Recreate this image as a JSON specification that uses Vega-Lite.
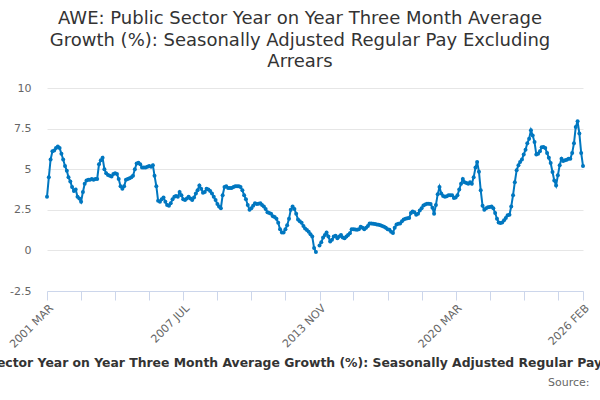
{
  "$schema": "https://vega.github.io/schema/vega-lite/v6.json",
  "autosize": {"type": "none"},
  "padding": {"left": 47, "top": 88, "right": 17, "bottom": 109},
  "width": 536,
  "height": 203,
  "background": "white",
  "title": {
    "text": ["AWE: Public Sector Year on Year Three Month Average", "Growth (%): Seasonally Adjusted Regular Pay Excluding", "Arrears"],
    "font": "DejaVu Sans",
    "fontSize": 18,
    "fontWeight": "normal",
    "color": "#333333",
    "lineHeight": 21.5,
    "anchor": "middle",
    "dx": -15,
    "offset": 11
  },
  "data": {
    "values": [
      {"d": "2001-03-01", "v": 3.3}, {"d": "2001-04-01", "v": 4.5}, {"d": "2001-05-01", "v": 5.6}, {"d": "2001-06-01", "v": 6.1}, {"d": "2001-07-01", "v": 6.15}, {"d": "2001-08-01", "v": 6.3}, {"d": "2001-09-01", "v": 6.4}, {"d": "2001-10-01", "v": 6.3}, {"d": "2001-11-01", "v": 5.95}, {"d": "2001-12-01", "v": 5.6},
      {"d": "2002-01-01", "v": 5.2}, {"d": "2002-02-01", "v": 4.9}, {"d": "2002-03-01", "v": 4.5}, {"d": "2002-04-01", "v": 4.25}, {"d": "2002-05-01", "v": 3.9}, {"d": "2002-06-01", "v": 3.65}, {"d": "2002-07-01", "v": 3.75}, {"d": "2002-08-01", "v": 3.3}, {"d": "2002-09-01", "v": 3.2}, {"d": "2002-10-01", "v": 3.0}, {"d": "2002-11-01", "v": 3.6}, {"d": "2002-12-01", "v": 4.1},
      {"d": "2003-01-01", "v": 4.3}, {"d": "2003-02-01", "v": 4.35}, {"d": "2003-03-01", "v": 4.35}, {"d": "2003-04-01", "v": 4.4}, {"d": "2003-05-01", "v": 4.35}, {"d": "2003-06-01", "v": 4.4}, {"d": "2003-07-01", "v": 4.4}, {"d": "2003-08-01", "v": 5.3}, {"d": "2003-09-01", "v": 5.55}, {"d": "2003-10-01", "v": 5.7}, {"d": "2003-11-01", "v": 5.0}, {"d": "2003-12-01", "v": 4.75},
      {"d": "2004-01-01", "v": 4.65}, {"d": "2004-02-01", "v": 4.6}, {"d": "2004-03-01", "v": 4.55}, {"d": "2004-04-01", "v": 4.7}, {"d": "2004-05-01", "v": 4.75}, {"d": "2004-06-01", "v": 4.7}, {"d": "2004-07-01", "v": 4.4}, {"d": "2004-08-01", "v": 3.95}, {"d": "2004-09-01", "v": 3.8}, {"d": "2004-10-01", "v": 3.95}, {"d": "2004-11-01", "v": 4.35}, {"d": "2004-12-01", "v": 4.4},
      {"d": "2005-01-01", "v": 4.45}, {"d": "2005-02-01", "v": 4.5}, {"d": "2005-03-01", "v": 4.6}, {"d": "2005-04-01", "v": 5.0}, {"d": "2005-05-01", "v": 5.35}, {"d": "2005-06-01", "v": 5.4}, {"d": "2005-07-01", "v": 5.3}, {"d": "2005-08-01", "v": 5.1}, {"d": "2005-09-01", "v": 5.1}, {"d": "2005-10-01", "v": 5.1}, {"d": "2005-11-01", "v": 5.15}, {"d": "2005-12-01", "v": 5.2},
      {"d": "2006-01-01", "v": 5.15}, {"d": "2006-02-01", "v": 5.25}, {"d": "2006-03-01", "v": 4.6}, {"d": "2006-04-01", "v": 3.95}, {"d": "2006-05-01", "v": 3.05}, {"d": "2006-06-01", "v": 3.0}, {"d": "2006-07-01", "v": 3.15}, {"d": "2006-08-01", "v": 3.25}, {"d": "2006-09-01", "v": 3.0}, {"d": "2006-10-01", "v": 2.8}, {"d": "2006-11-01", "v": 2.75}, {"d": "2006-12-01", "v": 2.9},
      {"d": "2007-01-01", "v": 3.15}, {"d": "2007-02-01", "v": 3.3}, {"d": "2007-03-01", "v": 3.35}, {"d": "2007-04-01", "v": 3.3}, {"d": "2007-05-01", "v": 3.6}, {"d": "2007-06-01", "v": 3.4}, {"d": "2007-07-01", "v": 3.15}, {"d": "2007-08-01", "v": 3.1}, {"d": "2007-09-01", "v": 3.2}, {"d": "2007-10-01", "v": 3.3}, {"d": "2007-11-01", "v": 3.2}, {"d": "2007-12-01", "v": 3.1},
      {"d": "2008-01-01", "v": 3.25}, {"d": "2008-02-01", "v": 3.5}, {"d": "2008-03-01", "v": 3.7}, {"d": "2008-04-01", "v": 4.0}, {"d": "2008-05-01", "v": 3.8}, {"d": "2008-06-01", "v": 3.55}, {"d": "2008-07-01", "v": 3.6}, {"d": "2008-08-01", "v": 3.8}, {"d": "2008-09-01", "v": 3.75}, {"d": "2008-10-01", "v": 3.65}, {"d": "2008-11-01", "v": 3.5}, {"d": "2008-12-01", "v": 3.3},
      {"d": "2009-01-01", "v": 3.1}, {"d": "2009-02-01", "v": 2.85}, {"d": "2009-03-01", "v": 2.7}, {"d": "2009-04-01", "v": 2.6}, {"d": "2009-05-01", "v": 3.4}, {"d": "2009-06-01", "v": 3.9}, {"d": "2009-07-01", "v": 3.95}, {"d": "2009-08-01", "v": 3.85}, {"d": "2009-09-01", "v": 3.85}, {"d": "2009-10-01", "v": 3.85}, {"d": "2009-11-01", "v": 3.9}, {"d": "2009-12-01", "v": 3.95},
      {"d": "2010-01-01", "v": 3.95}, {"d": "2010-02-01", "v": 3.95}, {"d": "2010-03-01", "v": 3.9}, {"d": "2010-04-01", "v": 3.7}, {"d": "2010-05-01", "v": 3.4}, {"d": "2010-06-01", "v": 3.15}, {"d": "2010-07-01", "v": 2.8}, {"d": "2010-08-01", "v": 2.5}, {"d": "2010-09-01", "v": 2.6}, {"d": "2010-10-01", "v": 2.75}, {"d": "2010-11-01", "v": 2.9}, {"d": "2010-12-01", "v": 2.85},
      {"d": "2011-01-01", "v": 2.87}, {"d": "2011-02-01", "v": 2.9}, {"d": "2011-03-01", "v": 2.8}, {"d": "2011-04-01", "v": 2.7}, {"d": "2011-05-01", "v": 2.55}, {"d": "2011-06-01", "v": 2.35}, {"d": "2011-07-01", "v": 2.3}, {"d": "2011-08-01", "v": 2.25}, {"d": "2011-09-01", "v": 2.1}, {"d": "2011-10-01", "v": 2.05}, {"d": "2011-11-01", "v": 1.95}, {"d": "2011-12-01", "v": 1.7},
      {"d": "2012-01-01", "v": 1.3}, {"d": "2012-02-01", "v": 1.1}, {"d": "2012-03-01", "v": 1.1}, {"d": "2012-04-01", "v": 1.3}, {"d": "2012-05-01", "v": 1.55}, {"d": "2012-06-01", "v": 1.95}, {"d": "2012-07-01", "v": 2.5}, {"d": "2012-08-01", "v": 2.7}, {"d": "2012-09-01", "v": 2.55}, {"d": "2012-10-01", "v": 2.25}, {"d": "2012-11-01", "v": 1.9}, {"d": "2012-12-01", "v": 1.8},
      {"d": "2013-01-01", "v": 1.7}, {"d": "2013-02-01", "v": 1.5}, {"d": "2013-03-01", "v": 1.35}, {"d": "2013-04-01", "v": 1.25}, {"d": "2013-05-01", "v": 1.15}, {"d": "2013-06-01", "v": 1.0}, {"d": "2013-07-01", "v": 0.85}, {"d": "2013-08-01", "v": 0.15}, {"d": "2013-09-01", "v": -0.1}, {"d": "2013-10-01", "v": null}, {"d": "2013-11-01", "v": 0.3}, {"d": "2013-12-01", "v": 0.5},
      {"d": "2014-01-01", "v": 0.8}, {"d": "2014-02-01", "v": 0.95}, {"d": "2014-03-01", "v": 1.1}, {"d": "2014-04-01", "v": 0.85}, {"d": "2014-05-01", "v": 0.55}, {"d": "2014-06-01", "v": 0.65}, {"d": "2014-07-01", "v": 0.85}, {"d": "2014-08-01", "v": 0.9}, {"d": "2014-09-01", "v": 0.75}, {"d": "2014-10-01", "v": 0.85}, {"d": "2014-11-01", "v": 0.95}, {"d": "2014-12-01", "v": 0.8},
      {"d": "2015-01-01", "v": 0.75}, {"d": "2015-02-01", "v": 0.85}, {"d": "2015-03-01", "v": 0.95}, {"d": "2015-04-01", "v": 1.05}, {"d": "2015-05-01", "v": 1.3}, {"d": "2015-06-01", "v": 1.3}, {"d": "2015-07-01", "v": 1.28}, {"d": "2015-08-01", "v": 1.27}, {"d": "2015-09-01", "v": 1.3}, {"d": "2015-10-01", "v": 1.45}, {"d": "2015-11-01", "v": 1.4}, {"d": "2015-12-01", "v": 1.3},
      {"d": "2016-01-01", "v": 1.4}, {"d": "2016-02-01", "v": 1.5}, {"d": "2016-03-01", "v": 1.65}, {"d": "2016-04-01", "v": 1.65}, {"d": "2016-05-01", "v": 1.64}, {"d": "2016-06-01", "v": 1.62}, {"d": "2016-07-01", "v": 1.6}, {"d": "2016-08-01", "v": 1.58}, {"d": "2016-09-01", "v": 1.55}, {"d": "2016-10-01", "v": 1.5}, {"d": "2016-11-01", "v": 1.45}, {"d": "2016-12-01", "v": 1.4},
      {"d": "2017-01-01", "v": 1.3}, {"d": "2017-02-01", "v": 1.27}, {"d": "2017-03-01", "v": 1.15}, {"d": "2017-04-01", "v": 1.07}, {"d": "2017-05-01", "v": 1.4}, {"d": "2017-06-01", "v": 1.6}, {"d": "2017-07-01", "v": 1.64}, {"d": "2017-08-01", "v": 1.65}, {"d": "2017-09-01", "v": 1.8}, {"d": "2017-10-01", "v": 1.9}, {"d": "2017-11-01", "v": 1.95}, {"d": "2017-12-01", "v": 1.98},
      {"d": "2018-01-01", "v": 2.0}, {"d": "2018-02-01", "v": 2.3}, {"d": "2018-03-01", "v": 2.4}, {"d": "2018-04-01", "v": 2.35}, {"d": "2018-05-01", "v": 2.2}, {"d": "2018-06-01", "v": 2.25}, {"d": "2018-07-01", "v": 2.45}, {"d": "2018-08-01", "v": 2.6}, {"d": "2018-09-01", "v": 2.77}, {"d": "2018-10-01", "v": 2.82}, {"d": "2018-11-01", "v": 2.87}, {"d": "2018-12-01", "v": 2.87},
      {"d": "2019-01-01", "v": 2.85}, {"d": "2019-02-01", "v": 2.63}, {"d": "2019-03-01", "v": 2.26}, {"d": "2019-04-01", "v": 2.8}, {"d": "2019-05-01", "v": 3.45}, {"d": "2019-06-01", "v": 3.9}, {"d": "2019-07-01", "v": 3.5}, {"d": "2019-08-01", "v": 3.35}, {"d": "2019-09-01", "v": 3.3}, {"d": "2019-10-01", "v": 3.33}, {"d": "2019-11-01", "v": 3.4}, {"d": "2019-12-01", "v": 3.4},
      {"d": "2020-01-01", "v": 3.4}, {"d": "2020-02-01", "v": 3.22}, {"d": "2020-03-01", "v": 3.25}, {"d": "2020-04-01", "v": 3.4}, {"d": "2020-05-01", "v": 3.75}, {"d": "2020-06-01", "v": 4.1}, {"d": "2020-07-01", "v": 4.4}, {"d": "2020-08-01", "v": 4.2}, {"d": "2020-09-01", "v": 4.15}, {"d": "2020-10-01", "v": 4.1}, {"d": "2020-11-01", "v": 4.2}, {"d": "2020-12-01", "v": 4.1},
      {"d": "2021-01-01", "v": 4.5}, {"d": "2021-02-01", "v": 5.1}, {"d": "2021-03-01", "v": 5.45}, {"d": "2021-04-01", "v": 4.85}, {"d": "2021-05-01", "v": 3.7}, {"d": "2021-06-01", "v": 2.75}, {"d": "2021-07-01", "v": 2.5}, {"d": "2021-08-01", "v": 2.6}, {"d": "2021-09-01", "v": 2.65}, {"d": "2021-10-01", "v": 2.67}, {"d": "2021-11-01", "v": 2.7}, {"d": "2021-12-01", "v": 2.6},
      {"d": "2022-01-01", "v": 2.3}, {"d": "2022-02-01", "v": 1.95}, {"d": "2022-03-01", "v": 1.72}, {"d": "2022-04-01", "v": 1.68}, {"d": "2022-05-01", "v": 1.72}, {"d": "2022-06-01", "v": 1.85}, {"d": "2022-07-01", "v": 2.0}, {"d": "2022-08-01", "v": 2.16}, {"d": "2022-09-01", "v": 2.2}, {"d": "2022-10-01", "v": 2.7}, {"d": "2022-11-01", "v": 3.4}, {"d": "2022-12-01", "v": 4.2},
      {"d": "2023-01-01", "v": 4.93}, {"d": "2023-02-01", "v": 5.25}, {"d": "2023-03-01", "v": 5.45}, {"d": "2023-04-01", "v": 5.6}, {"d": "2023-05-01", "v": 5.9}, {"d": "2023-06-01", "v": 6.2}, {"d": "2023-07-01", "v": 6.6}, {"d": "2023-08-01", "v": 6.88}, {"d": "2023-09-01", "v": 7.4}, {"d": "2023-10-01", "v": 7.08}, {"d": "2023-11-01", "v": 6.67}, {"d": "2023-12-01", "v": 5.9},
      {"d": "2024-01-01", "v": 5.95}, {"d": "2024-02-01", "v": 6.1}, {"d": "2024-03-01", "v": 6.35}, {"d": "2024-04-01", "v": 6.37}, {"d": "2024-05-01", "v": 6.3}, {"d": "2024-06-01", "v": 6.0}, {"d": "2024-07-01", "v": 5.7}, {"d": "2024-08-01", "v": 5.38}, {"d": "2024-09-01", "v": 4.83}, {"d": "2024-10-01", "v": 4.3}, {"d": "2024-11-01", "v": 4.0}, {"d": "2024-12-01", "v": 4.62},
      {"d": "2025-01-01", "v": 5.24}, {"d": "2025-02-01", "v": 5.65}, {"d": "2025-03-01", "v": 5.5}, {"d": "2025-04-01", "v": 5.55}, {"d": "2025-05-01", "v": 5.58}, {"d": "2025-06-01", "v": 5.65}, {"d": "2025-07-01", "v": 5.65}, {"d": "2025-08-01", "v": 6.0}, {"d": "2025-09-01", "v": 6.6}, {"d": "2025-10-01", "v": 7.6}, {"d": "2025-11-01", "v": 7.95}, {"d": "2025-12-01", "v": 7.2},
      {"d": "2026-01-01", "v": 6.0}, {"d": "2026-02-01", "v": 5.2}
    ]
  },
  "mark": {
    "type": "line",
    "color": "#0077c0",
    "strokeWidth": 2,
    "invalid": "break-paths-filter-domains",
    "point": {"filled": true, "size": 16, "color": "#0077c0"}
  },
  "encoding": {
    "x": {
      "field": "d",
      "type": "temporal",
      "scale": {
        "type": "utc",
        "nice": false,
        "domain": [
          {"year": 2001, "month": 3, "date": 1, "utc": true},
          {"year": 2026, "month": 2, "date": 1, "utc": true}
        ]
      },
      "axis": {
        "title": "AWE: Public Sector Year on Year Three Month Average Growth (%): Seasonally Adjusted Regular Pay Excluding Arrears",
        "titleFont": "DejaVu Sans",
        "titleFontSize": 12.4,
        "titleFontWeight": "bold",
        "titleColor": "#333333",
        "titleLimit": 3000,
        "titleBaseline": "alphabetic",
        "titleY": 75,
        "values": [
          {"year": 2001, "month": 3, "date": 1, "utc": true},
          {"year": 2002, "month": 10, "date": 1, "utc": true},
          {"year": 2004, "month": 5, "date": 1, "utc": true},
          {"year": 2005, "month": 12, "date": 1, "utc": true},
          {"year": 2007, "month": 7, "date": 1, "utc": true},
          {"year": 2009, "month": 2, "date": 1, "utc": true},
          {"year": 2010, "month": 9, "date": 1, "utc": true},
          {"year": 2012, "month": 4, "date": 1, "utc": true},
          {"year": 2013, "month": 11, "date": 1, "utc": true},
          {"year": 2015, "month": 6, "date": 1, "utc": true},
          {"year": 2017, "month": 1, "date": 1, "utc": true},
          {"year": 2018, "month": 8, "date": 1, "utc": true},
          {"year": 2020, "month": 3, "date": 1, "utc": true},
          {"year": 2021, "month": 10, "date": 1, "utc": true},
          {"year": 2023, "month": 5, "date": 1, "utc": true},
          {"year": 2024, "month": 12, "date": 1, "utc": true},
          {"year": 2026, "month": 2, "date": 1, "utc": true}
        ],
        "labelExpr": "((utcyear(datum.value) - 2001) * 12 + utcmonth(datum.value) - 2) % 76 == 0 || ((utcyear(datum.value) - 2001) * 12 + utcmonth(datum.value) - 2) == 299 ? upper(utcFormat(datum.value, '%Y %b')) : ''",
        "labelAngle": -45,
        "labelAlign": "right",
        "labelBaseline": "top",
        "labelFont": "DejaVu Sans",
        "labelFontSize": 11,
        "labelColor": "#666666",
        "labelPadding": 2,
        "labelFlush": false,
        "labelOverlap": false,
        "labelBound": false,
        "grid": false,
        "domainColor": "#ccd6eb",
        "tickColor": "#ccd6eb",
        "tickSize": 9
      }
    },
    "y": {
      "field": "v",
      "type": "quantitative",
      "scale": {"domain": [-2.5, 10], "nice": false, "zero": false},
      "axis": {
        "title": "Source:",
        "titleFont": "DejaVu Sans",
        "titleFontSize": 11,
        "titleFontWeight": "normal",
        "titleColor": "#666666",
        "titleAngle": 0,
        "titleAlign": "right",
        "titleBaseline": "alphabetic",
        "titleX": 542,
        "titleY": 297,
        "values": [-2.5, 0, 2.5, 5, 7.5, 10],
        "labelExpr": "'' + datum.value",
        "labelFont": "DejaVu Sans",
        "labelFontSize": 11,
        "labelColor": "#666666",
        "labelPadding": 16,
        "ticks": false,
        "domain": false,
        "grid": true,
        "gridColor": "#e6e6e6"
      }
    }
  },
  "config": {
    "view": {"stroke": null}
  }
}
